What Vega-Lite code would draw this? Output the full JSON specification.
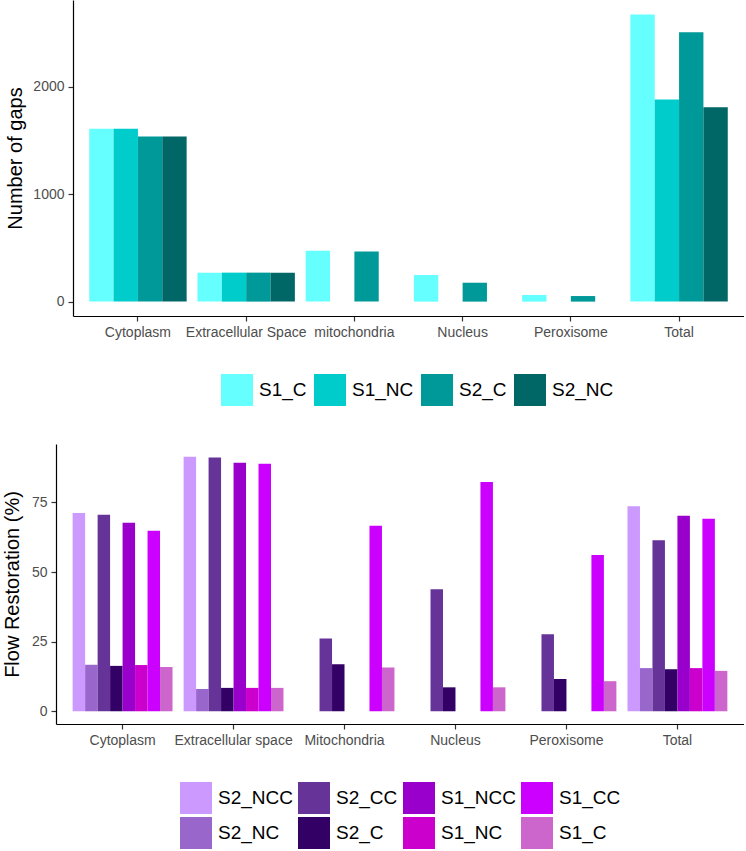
{
  "$schema": "https://vega.github.io/schema/vega-lite/v6.json",
  "padding": {"left": 2, "top": 0, "right": 0, "bottom": 0},
  "background": "white",
  "datasets": {
    "gaps": [
      {"category": "Cytoplasm", "series": "S1_C", "value": 1611},
      {"category": "Cytoplasm", "series": "S1_NC", "value": 1611},
      {"category": "Cytoplasm", "series": "S2_C", "value": 1539},
      {"category": "Cytoplasm", "series": "S2_NC", "value": 1539},
      {"category": "Extracellular Space", "series": "S1_C", "value": 270},
      {"category": "Extracellular Space", "series": "S1_NC", "value": 270},
      {"category": "Extracellular Space", "series": "S2_C", "value": 270},
      {"category": "Extracellular Space", "series": "S2_NC", "value": 270},
      {"category": "mitochondria", "series": "S1_C", "value": 475},
      {"category": "mitochondria", "series": "S2_C", "value": 466},
      {"category": "Nucleus", "series": "S1_C", "value": 248},
      {"category": "Nucleus", "series": "S2_C", "value": 176},
      {"category": "Peroxisome", "series": "S1_C", "value": 62},
      {"category": "Peroxisome", "series": "S2_C", "value": 52},
      {"category": "Total", "series": "S1_C", "value": 2676},
      {"category": "Total", "series": "S1_NC", "value": 1882},
      {"category": "Total", "series": "S2_C", "value": 2510},
      {"category": "Total", "series": "S2_NC", "value": 1810}
    ],
    "flow": [
      {"category": "Cytoplasm", "series": "S2_NCC", "value": 71.2},
      {"category": "Cytoplasm", "series": "S2_NC", "value": 16.7},
      {"category": "Cytoplasm", "series": "S2_CC", "value": 70.6},
      {"category": "Cytoplasm", "series": "S2_C", "value": 16.3},
      {"category": "Cytoplasm", "series": "S1_NCC", "value": 67.7},
      {"category": "Cytoplasm", "series": "S1_NC", "value": 16.6},
      {"category": "Cytoplasm", "series": "S1_CC", "value": 64.8},
      {"category": "Cytoplasm", "series": "S1_C", "value": 15.9},
      {"category": "Extracellular space", "series": "S2_NCC", "value": 91.4},
      {"category": "Extracellular space", "series": "S2_NC", "value": 8.0},
      {"category": "Extracellular space", "series": "S2_CC", "value": 91.1},
      {"category": "Extracellular space", "series": "S2_C", "value": 8.4},
      {"category": "Extracellular space", "series": "S1_NCC", "value": 89.2},
      {"category": "Extracellular space", "series": "S1_NC", "value": 8.4},
      {"category": "Extracellular space", "series": "S1_CC", "value": 88.9},
      {"category": "Extracellular space", "series": "S1_C", "value": 8.4},
      {"category": "Mitochondria", "series": "S2_CC", "value": 26.1},
      {"category": "Mitochondria", "series": "S2_C", "value": 16.9},
      {"category": "Mitochondria", "series": "S1_CC", "value": 66.6},
      {"category": "Mitochondria", "series": "S1_C", "value": 15.7},
      {"category": "Nucleus", "series": "S2_CC", "value": 43.8},
      {"category": "Nucleus", "series": "S2_C", "value": 8.6},
      {"category": "Nucleus", "series": "S1_CC", "value": 82.3},
      {"category": "Nucleus", "series": "S1_C", "value": 8.6},
      {"category": "Peroxisome", "series": "S2_CC", "value": 27.7},
      {"category": "Peroxisome", "series": "S2_C", "value": 11.6},
      {"category": "Peroxisome", "series": "S1_CC", "value": 56.1},
      {"category": "Peroxisome", "series": "S1_C", "value": 10.8},
      {"category": "Total", "series": "S2_NCC", "value": 73.6},
      {"category": "Total", "series": "S2_NC", "value": 15.5},
      {"category": "Total", "series": "S2_CC", "value": 61.4},
      {"category": "Total", "series": "S2_C", "value": 15.1},
      {"category": "Total", "series": "S1_NCC", "value": 70.2},
      {"category": "Total", "series": "S1_NC", "value": 15.5},
      {"category": "Total", "series": "S1_CC", "value": 69.1},
      {"category": "Total", "series": "S1_C", "value": 14.5}
    ]
  },
  "config": {
    "font": "Liberation Sans",
    "view": {"stroke": null},
    "axis": {
      "domainColor": "black",
      "domainWidth": 1.2,
      "tickColor": "#333333",
      "tickWidth": 1.2,
      "tickSize": 5,
      "labelColor": "#4D4D4D",
      "labelFontSize": 14,
      "labelPadding": 4,
      "titleFontSize": 20,
      "titleFontWeight": "normal",
      "titleColor": "black",
      "grid": false
    },
    "legend": {
      "title": null,
      "labelFontSize": 19,
      "labelColor": "black",
      "symbolType": "square",
      "symbolSize": 1024,
      "symbolStrokeWidth": 0,
      "labelOffset": 6,
      "columnPadding": 5,
      "rowPadding": 3,
      "padding": 0,
      "layout": {"anchor": "middle"}
    },
    "concat": {"spacing": 38}
  },
  "resolve": {
    "scale": {"color": "independent", "x": "independent", "xOffset": "independent", "y": "independent"},
    "legend": {"color": "independent"}
  },
  "vconcat": [
    {
      "data": {"name": "gaps"},
      "width": 688,
      "height": 316,
      "mark": {"type": "bar"},
      "encoding": {
        "x": {
          "field": "category",
          "type": "nominal",
          "sort": ["Cytoplasm", "Extracellular Space", "mitochondria", "Nucleus", "Peroxisome", "Total"],
          "scale": {"paddingInner": 0.1, "paddingOuter": 0.15, "range": [17, 688]},
          "axis": {"title": null, "labelAngle": 0}
        },
        "xOffset": {
          "field": "series",
          "type": "nominal",
          "sort": ["S1_C", "S1_NC", "S2_C", "S2_NC"],
          "scale": {"paddingInner": 0, "paddingOuter": 0}
        },
        "y": {
          "field": "value",
          "type": "quantitative",
          "scale": {"domain": [-134, 2810], "nice": false, "zero": false},
          "axis": {"title": "Number of gaps", "values": [0, 1000, 2000], "format": "d", "titlePadding": 7, "offset": -17}
        },
        "color": {
          "field": "series",
          "type": "nominal",
          "scale": {
            "domain": ["S1_C", "S1_NC", "S2_C", "S2_NC"],
            "range": ["#66FFFF", "#00CCCC", "#009999", "#006666"]
          },
          "legend": {"direction": "horizontal", "orient": "none", "legendX": 165, "legendY": 374, "columnPadding": 7}
        }
      }
    },
    {
      "data": {"name": "flow"},
      "width": 688,
      "height": 280,
      "mark": {"type": "bar"},
      "encoding": {
        "x": {
          "field": "category",
          "type": "nominal",
          "sort": ["Cytoplasm", "Extracellular space", "Mitochondria", "Nucleus", "Peroxisome", "Total"],
          "scale": {"paddingInner": 0.1, "paddingOuter": 0.15},
          "axis": {"title": null, "labelAngle": 0}
        },
        "xOffset": {
          "field": "series",
          "type": "nominal",
          "sort": ["S2_NCC", "S2_NC", "S2_CC", "S2_C", "S1_NCC", "S1_NC", "S1_CC", "S1_C"],
          "scale": {"paddingInner": 0, "paddingOuter": 0}
        },
        "y": {
          "field": "value",
          "type": "quantitative",
          "scale": {"domain": [-4.57, 95.97], "nice": false, "zero": false},
          "axis": {"title": "Flow Restoration (%)", "values": [0, 25, 50, 75], "format": "d", "titlePadding": 9}
        },
        "color": {
          "field": "series",
          "type": "nominal",
          "scale": {
            "domain": ["S2_NCC", "S2_CC", "S1_NCC", "S1_CC", "S2_NC", "S2_C", "S1_NC", "S1_C"],
            "range": ["#CC99FF", "#663399", "#9900CC", "#CC00FF", "#9966CC", "#330066", "#CC00CC", "#CC66CC"]
          },
          "legend": {"direction": "horizontal", "columns": 4, "orient": "bottom", "offset": 35}
        }
      }
    }
  ]
}
